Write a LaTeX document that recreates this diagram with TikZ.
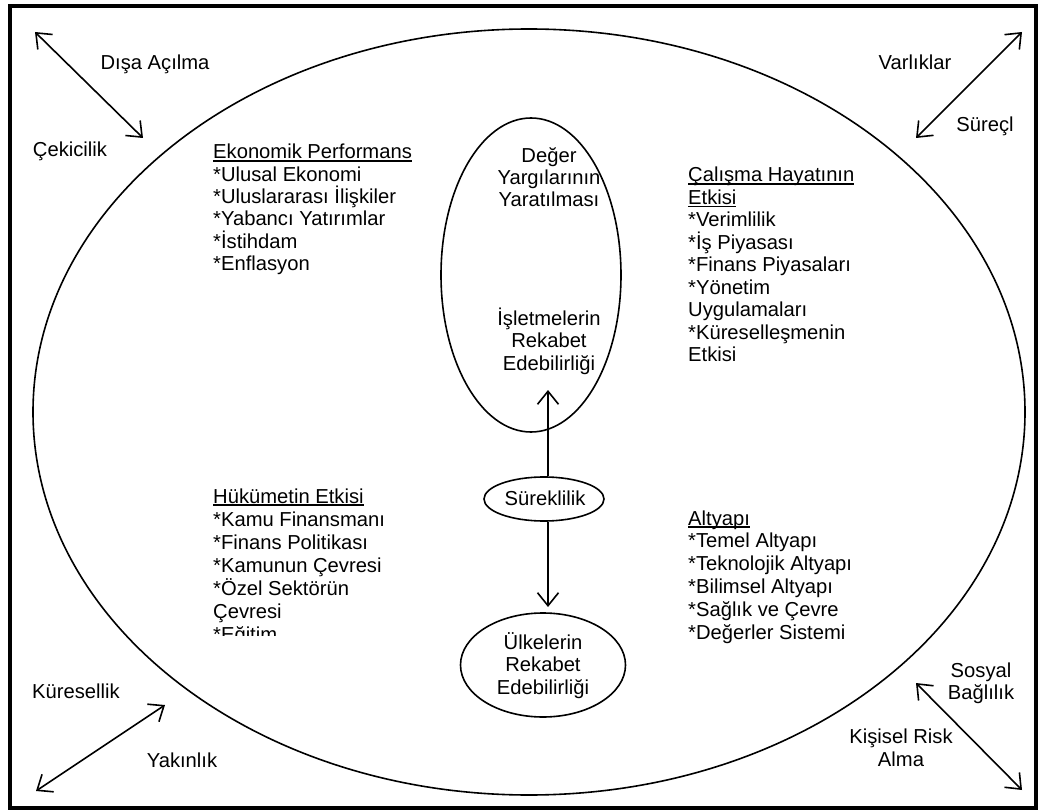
\documentclass[tikz,border=0pt]{standalone}
\usepackage{fontspec}
\setmainfont{Liberation Sans}
\usetikzlibrary{arrows.meta,shapes.geometric}
\newcommand\undl[1]{\setbox0=\hbox{#1}\rlap{\vrule height -1.3pt depth 2.6pt width \wd0}\box0}
\newcommand\blkL[2]{\vtop{\baselineskip=#1\lineskiplimit=-50pt\lineskip=0pt\halign{##\hfil\cr#2\crcr}}}
\newcommand\blkC[2]{\vtop{\baselineskip=#1\lineskiplimit=-50pt\lineskip=0pt\halign{\hfil##\hfil\cr#2\crcr}}}
\tikzset{
  txt/.style={inner sep=0pt, anchor=base west, font=\fontsize{20.2}{22.5}\selectfont},
  ctxt/.style={inner sep=0pt, anchor=base, font=\fontsize{20.2}{22.5}\selectfont},
  oval/.style={draw, ellipse, line width=1.6pt, inner sep=0pt},
  frame/.style={draw, line width=4pt, inner sep=0pt},
  darr/.style={line width=1.6pt, {Straight Barb[length=13pt,width=21pt]}-{Straight Barb[length=13pt,width=21pt]}},
  sarr/.style={line width=1.6pt, -{Straight Barb[length=13pt,width=21pt]}}
}
\begin{document}
\begin{tikzpicture}[x=1pt,y=-1pt]
\useasboundingbox (0,0) rectangle (1044,810);
\fill[white] (0,0) rectangle (1044,810);
\node[frame, minimum width=1026pt, minimum height=802pt] (box) at (523,407) {};
\node[oval, minimum width=992pt, minimum height=766pt] (big) at (529,412) {};
\node[oval, minimum width=180pt, minimum height=314pt] (deg) at (531,275) {};
\node[oval, minimum width=120pt, minimum height=44pt] (sur) at (544,499) {};
\node[oval, minimum width=165pt, minimum height=104pt] (ulk) at (543,665) {};

% central texts
\node[ctxt] (t1) at (549,163) {\blkC{22pt}{Değer\cr Yargılarının\cr Yaratılması}};
\node[ctxt] (t2) at (549,325) {\blkC{22.5pt}{İşletmelerin\cr Rekabet\cr Edebilirliği}};
\node[ctxt] (t3) at (545,505) {Süreklilik};
\node[ctxt] (t4) at (543,649) {\blkC{22.5pt}{Ülkelerin\cr Rekabet\cr Edebilirliği}};

% central arrows
\coordinate (upTip) at (548,390);
\coordinate (dnTip) at (548,607);
\draw[sarr] (sur.north -| upTip) -- (upTip);
\draw[sarr] (sur.south -| dnTip) -- (dnTip);

% blocks
\node[txt] (eko) at (213,159) {\blkL{22.3pt}{\undl{Ekonomik Performans}\cr *Ulusal Ekonomi\cr *Uluslararası İlişkiler\cr *Yabancı Yatırımlar\cr *İstihdam\cr *Enflasyon}};
\node[txt] (cal) at (688,182) {\blkL{22.5pt}{\undl{Çalışma Hayatının}\cr \undl{Etkisi}\cr *Verimlilik\cr *İş Piyasası\cr *Finans Piyasaları\cr *Yönetim\cr Uygulamaları\cr *Küreselleşmenin\cr Etkisi}};
\begin{scope}
\clip (200,400) rectangle (440,635);
\node[txt] (huk) at (213,503) {\blkL{23pt}{\undl{Hükümetin Etkisi}\cr *Kamu Finansmanı\cr *Finans Politikası\cr *Kamunun Çevresi\cr *Özel Sektörün\cr Çevresi\cr *Eğitim}};
\end{scope}
\node[txt] (alt) at (688,525) {\blkL{22.8pt}{\undl{Altyapı}\cr *Temel Altyapı\cr *Teknolojik Altyapı\cr *Bilimsel Altyapı\cr *Sağlık ve Çevre\cr *Değerler Sistemi}};

% corner arrows
\coordinate (tl1) at (35,32);   \coordinate (tl2) at (143,138);
\coordinate (tr1) at (1022,32); \coordinate (tr2) at (916,138);
\coordinate (bl1) at (165,705); \coordinate (bl2) at (36,791);
\coordinate (br1) at (916,683); \coordinate (br2) at (1022,790);
\draw[darr] (tl1) -- (tl2);
\draw[darr] (tr1) -- (tr2);
\draw[darr] (bl1) -- (bl2);
\draw[darr] (br1) -- (br2);

% corner labels
\node[ctxt] (l1) at (155,70) {Dışa Açılma};
\node[ctxt] (l2) at (70,157) {Çekicilik};
\node[ctxt] (l3) at (915,70) {Varlıklar};
\node[ctxt] (l4) at (985,132) {Süreçl};
\node[ctxt] (l5) at (76,698) {Küresellik};
\node[ctxt] (l6) at (182,767) {Yakınlık};
\node[ctxt] (l7) at (981,677) {\blkC{22pt}{Sosyal\cr Bağlılık}};
\node[ctxt] (l8) at (901,743) {\blkC{23pt}{Kişisel Risk\cr Alma}};
\end{tikzpicture}
\end{document}
